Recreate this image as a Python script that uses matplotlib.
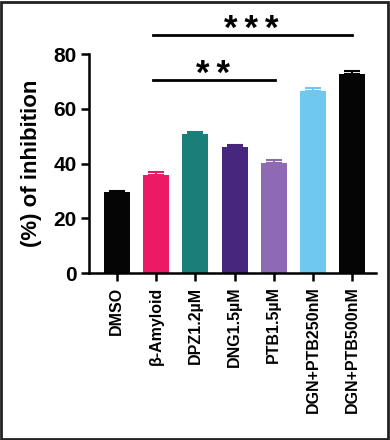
import matplotlib.pyplot as plt
from matplotlib.patches import Rectangle

plt.rcParams['font.family'] = ['Liberation Sans', 'DejaVu Sans']
plt.rcParams['font.weight'] = 'bold'

# --- data ---
groups = ['DMSO', 'β-Amyloid', 'DPZ1.2µM', 'DNG1.5µM', 'PTB1.5µM',
          'DGN+PTB250nM', 'DGN+PTB500nM']
inhibition = [29.8, 35.9, 50.9, 46.0, 40.4, 66.7, 72.7]
errors = [0.2, 1.0, 0.6, 0.9, 1.0, 0.9, 1.0]
colors = ['#050505', '#EC1A65', '#1A7F78', '#47277E', '#8D6AB3', '#6EC8F0', '#050505']
yticks = [0, 20, 40, 60, 80]

fig = plt.figure(figsize=(3.9, 4.4), dpi=100)
ax = fig.add_axes([0.228, 0.379, 0.736, 0.498])

x = list(range(len(groups)))
ax.bar(x, inhibition, width=0.66, color=colors, zorder=2)
for xi, v, e, c in zip(x, inhibition, errors, colors):
    ax.errorbar(xi, v, yerr=[[0], [e]], fmt='none', ecolor=c,
                elinewidth=1.5, capsize=6, capthick=1.5, zorder=3)

ax.set_xlim(-0.71, 6.6)
ax.set_ylim(0, 80)
ax.set_yticks(yticks)
ax.set_xticks(x)
ax.set_xticklabels(groups, rotation=90, fontsize=11.5, fontweight='bold')
ax.tick_params(axis='y', labelsize=15, width=1.8, length=6, pad=3)
ax.tick_params(axis='x', width=1.8, length=6)
for lbl in ax.get_yticklabels():
    lbl.set_fontweight('bold')
ax.set_ylabel('(%) of inhibition', fontsize=16, fontweight='bold', labelpad=8)

for s in ['top', 'right']:
    ax.spines[s].set_visible(False)
for s in ['left', 'bottom']:
    ax.spines[s].set_linewidth(1.8)

# significance brackets (above the axes)
ax.plot([0.91, 6.0], [86.8, 86.8], color='black', lw=2, clip_on=False)
ax.text(3.43, 85.4, '*\u2009*\u2009*', ha='center', va='baseline', fontsize=25,
        fontweight='bold', clip_on=False, family=['Liberation Sans', 'DejaVu Sans'])
ax.plot([0.91, 4.03], [70.4, 70.4], color='black', lw=2, clip_on=False)
ax.text(2.44, 69.1, '*\u2009*', ha='center', va='baseline', fontsize=25,
        fontweight='bold', clip_on=False, family=['Liberation Sans', 'DejaVu Sans'])

# outer frame of the image
fig.patches.append(Rectangle((0.003, 0.003), 0.992, 0.992, transform=fig.transFigure,
                             fill=False, edgecolor='#222222', lw=2))

fig.savefig('out.png', dpi=100)
